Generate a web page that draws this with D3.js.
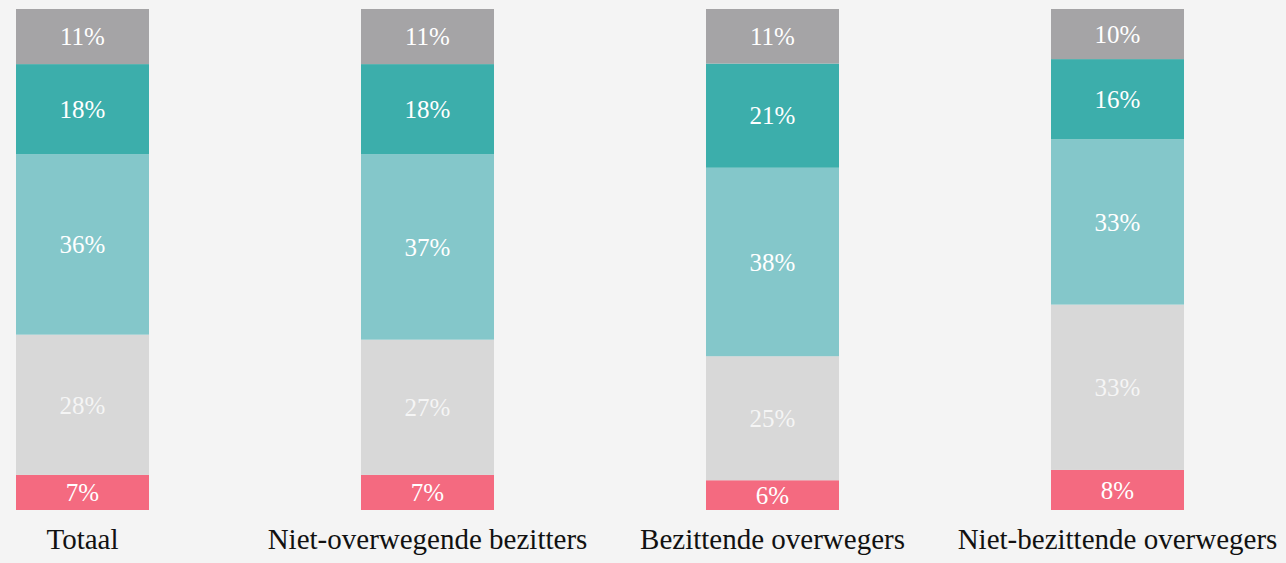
<!DOCTYPE html>
<html>
<head>
<meta charset="utf-8">
<script src="https://cdn.jsdelivr.net/npm/d3@7"></script>
<style>
  html, body { margin: 0; padding: 0; background: #f4f4f4; }
  svg { display: block; }
</style>
</head>
<body>
<svg id="chart" width="1286" height="563"></svg>
<script>
// Groups shown along the bottom
const categories = ["Totaal", "Niet-overwegende bezitters", "Bezittende overwegers", "Niet-bezittende overwegers"];

// Segment keys, stacked bottom to top
const segments = ["s1", "s2", "s3", "s4", "s5"];

// Shares per group (%), one array per segment (bottom → top)
const s1 = [7, 7, 6, 8];
const s2 = [28, 27, 25, 33];
const s3 = [36, 37, 38, 33];
const s4 = [18, 18, 21, 16];
const s5 = [11, 11, 11, 10];

const colors = ["#f46a80", "#d8d8d8", "#84c7ca", "#3caeab", "#a5a4a6"];
const labelOpacity = [1, 0.75, 1, 1, 1];

const rows = categories.map((c, i) => ({
  cat: c, s1: s1[i], s2: s2[i], s3: s3[i], s4: s4[i], s5: s5[i]
}));

const svg = d3.select("#chart");

const x = d3.scaleBand()
  .domain(categories)
  .range([16, 1184])
  .paddingInner(0.6145)
  .paddingOuter(0);

const y = d3.scaleLinear().domain([0, 1]).range([510, 9]);

// Each bar is normalised to its own total
const stacked = d3.stack().keys(segments).offset(d3.stackOffsetExpand)(rows);

const layer = svg.selectAll("g.layer")
  .data(stacked)
  .join("g")
  .attr("class", "layer")
  .attr("fill", (d, i) => colors[i]);

layer.selectAll("rect")
  .data(d => d)
  .join("rect")
  .attr("x", d => x(d.data.cat))
  .attr("width", x.bandwidth())
  .attr("y", d => y(d[1]))
  .attr("height", d => y(d[0]) - y(d[1]));

// Percentage labels centred in each segment
layer.selectAll("text")
  .data((d) => d.map(v => ({ v, key: d.key, idx: d.index })))
  .join("text")
  .attr("x", d => x(d.v.data.cat) + x.bandwidth() / 2)
  .attr("y", d => (y(d.v[0]) + y(d.v[1])) / 2)
  .attr("dy", "0.35em")
  .attr("text-anchor", "middle")
  .attr("fill", "#ffffff")
  .attr("fill-opacity", d => labelOpacity[d.idx])
  .attr("font-family", "'Liberation Serif', 'DejaVu Serif', serif")
  .attr("font-size", 25)
  .text(d => d.v.data[d.key] + "%");

// Category axis
const axis = svg.append("g")
  .attr("transform", "translate(0,510)")
  .call(d3.axisBottom(x).tickSize(0).tickPadding(18));
axis.select(".domain").remove();
axis.selectAll("text")
  .attr("fill", "#111")
  .attr("font-family", "'Liberation Serif', 'DejaVu Serif', serif")
  .attr("font-size", 29);
</script>
</body>
</html>
